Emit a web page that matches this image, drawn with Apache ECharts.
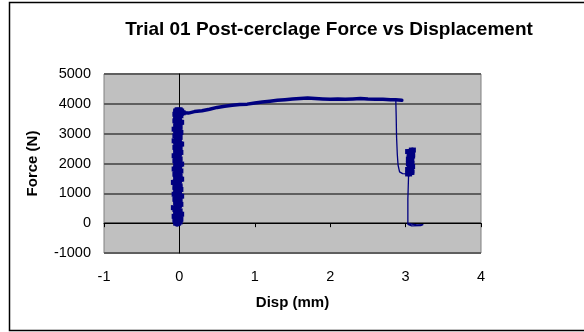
<!DOCTYPE html>
<html>
<head>
<meta charset="utf-8">
<script src="https://cdn.jsdelivr.net/npm/echarts@6/dist/echarts.min.js"></script>
<style>
  html, body { margin: 0; padding: 0; background: #fff; }
  #chart { width: 584px; height: 332px; }
</style>
</head>
<body>
<div id="chart"></div>
<script>
// Axis ranges and ticks
const xMin = -1, xMax = 4, xStep = 1;
const yMin = -1000, yMax = 5000, yStep = 1000;

// Loading phase: force climbs while displacement jitters around zero
const loadDisp = [
  -0.03, -0.01, -0.04, 0.00, -0.02, -0.05, 0.01, -0.03, -0.01, -0.04,
  -0.06, -0.02, 0.00, -0.03, -0.01, -0.04, -0.02, 0.01, -0.05, -0.02,
  -0.03, 0.00, -0.04, -0.01, -0.03, -0.06, -0.02, 0.01, -0.03, -0.01,
  -0.04, -0.02, 0.00, -0.05, -0.02, -0.03, 0.01, -0.02, -0.04, -0.01,
  -0.03, -0.05, -0.02, 0.00, -0.03, -0.01, -0.04, -0.02, 0.01, -0.03,
  -0.05, -0.02, -0.01, -0.04, -0.02, 0.00, -0.03, -0.05, -0.01, -0.03,
  -0.02, 0.01, -0.04, -0.02, -0.03, 0.00, -0.04, -0.02, -0.03, -0.01,
  0.01, 0.03
];
const loadForce = [
  0, 40, 95, 130, 190, 230, 300, 345, 410, 460,
  520, 575, 630, 690, 740, 800, 860, 905, 970, 1020,
  1085, 1130, 1190, 1250, 1300, 1365, 1410, 1475, 1530, 1580,
  1640, 1700, 1750, 1815, 1860, 1925, 1980, 2030, 2090, 2150,
  2200, 2260, 2310, 2370, 2430, 2480, 2540, 2590, 2650, 2710,
  2760, 2820, 2875, 2930, 2990, 3040, 3100, 3150, 3210, 3265,
  3320, 3380, 3430, 3490, 3545, 3600, 3650, 3710, 3760, 3800,
  3760, 3700
];

// Yield plateau
const plateauDisp = [
  0.03, 0.12, 0.2, 0.3, 0.4, 0.5, 0.6, 0.7, 0.8, 0.9, 1.0,
  1.1, 1.2, 1.3, 1.4, 1.5, 1.6, 1.7, 1.8, 1.9, 2.0,
  2.1, 2.2, 2.3, 2.4, 2.5, 2.6, 2.7, 2.8, 2.87, 2.95
];
const plateauForce = [
  3700, 3690, 3740, 3770, 3820, 3880, 3920, 3950, 3975, 3990, 4030,
  4060, 4090, 4120, 4140, 4160, 4180, 4195, 4175, 4160, 4150,
  4160, 4150, 4165, 4180, 4160, 4155, 4150, 4140, 4135, 4120
];

// Sudden drop after failure
const dropDisp = [2.87, 2.875, 2.88, 2.89, 2.9, 2.92, 2.96, 3.02, 3.06];
const dropForce = [4130, 3600, 2900, 2300, 1950, 1720, 1660, 1650, 1660];

// Second load burst
const burstDisp = [3.05, 3.07, 3.04, 3.08, 3.05, 3.07, 3.06, 3.08, 3.04, 3.09, 3.06, 3.08, 3.05, 3.07, 3.06, 3.07, 3.04];
const burstForce = [1700, 1750, 1800, 1900, 2000, 2100, 2200, 2300, 2400, 2450, 2350, 2250, 2150, 2000, 1850, 1700, 1650];

// Unloading tail
const tailDisp = [3.04, 3.03, 3.03, 3.03, 3.03, 3.08, 3.2, 3.23, 3.15, 3.05];
const tailForce = [1650, 1600, 800, 50, -40, -90, -80, -50, -60, -20];

const navy = '#000080';
const pairs = (xs, ys) => xs.map((x, i) => [x, ys[i]]);
const font = "'Liberation Sans', Arial, sans-serif";

const lineSeries = (xs, ys, width) => ({
  type: 'line',
  data: pairs(xs, ys),
  showSymbol: false,
  symbol: 'none',
  animation: false,
  lineStyle: { color: navy, width: width, join: 'round', cap: 'round' },
  itemStyle: { color: navy },
  z: 5
});

// Dense readings drawn as small filled blocks at every sample
const blockSeries = (xs, ys, size) => ({
  type: 'scatter',
  data: pairs(xs, ys),
  symbol: 'rect',
  symbolSize: size,
  animation: false,
  itemStyle: { color: navy, opacity: 1 },
  z: 6
});

const chart = echarts.init(document.getElementById('chart'), null, { renderer: 'canvas' });
chart.setOption({
  backgroundColor: '#ffffff',
  animation: false,
  title: {
    text: 'Trial 01 Post-cerclage Force vs Displacement',
    left: 324,
    top: 15,
    textAlign: 'center',
    textStyle: { fontFamily: font, fontSize: 19, fontWeight: 'bold', color: '#000' }
  },
  graphic: [{
    type: 'rect',
    shape: { x: 9.5, y: 2.5, width: 600, height: 328 },
    style: { fill: 'none', stroke: '#000', lineWidth: 1.5 },
    z: 0
  }],
  grid: {
    left: 104, top: 74, width: 377, height: 179,
    containLabel: false,
    outerBoundsMode: 'none',
    show: true,
    backgroundColor: '#c0c0c0',
    borderColor: '#808080',
    borderWidth: 1
  },
  xAxis: {
    type: 'value',
    min: xMin, max: xMax, interval: xStep,
    name: 'Disp (mm)',
    nameLocation: 'middle',
    nameGap: 42,
    nameTextStyle: { fontFamily: font, fontSize: 15, fontWeight: 'bold', color: '#000' },
    axisLine: { show: true, onZero: true, lineStyle: { color: '#000', width: 1 } },
    axisTick: { show: true, length: 4, lineStyle: { color: '#000' } },
    axisLabel: { fontFamily: font, fontSize: 14.5, color: '#000', margin: 16, formatter: v => String(v) },
    splitLine: { show: false }
  },
  yAxis: {
    type: 'value',
    min: yMin, max: yMax, interval: yStep,
    name: 'Force (N)',
    nameLocation: 'middle',
    nameGap: 64,
    nameRotate: 90,
    nameTextStyle: { fontFamily: font, fontSize: 15, fontWeight: 'bold', color: '#000' },
    axisLine: { show: true, onZero: true, lineStyle: { color: '#000', width: 1 } },
    axisTick: { show: false },
    axisLabel: { fontFamily: font, fontSize: 14.5, color: '#000', margin: 13, formatter: v => String(v) },
    splitLine: { show: true, lineStyle: { color: '#5f5f5f', width: 2 } }
  },
  series: [
    lineSeries(loadDisp, loadForce, 7),
    blockSeries(loadDisp, loadForce, [8, 5]),
    lineSeries(plateauDisp, plateauForce, 3.5),
    lineSeries(dropDisp, dropForce, 1.3),
    lineSeries(burstDisp, burstForce, 5),
    blockSeries(burstDisp, burstForce, [7, 5]),
    lineSeries(tailDisp, tailForce, 1.3)
  ]
});
</script>
</body>
</html>
